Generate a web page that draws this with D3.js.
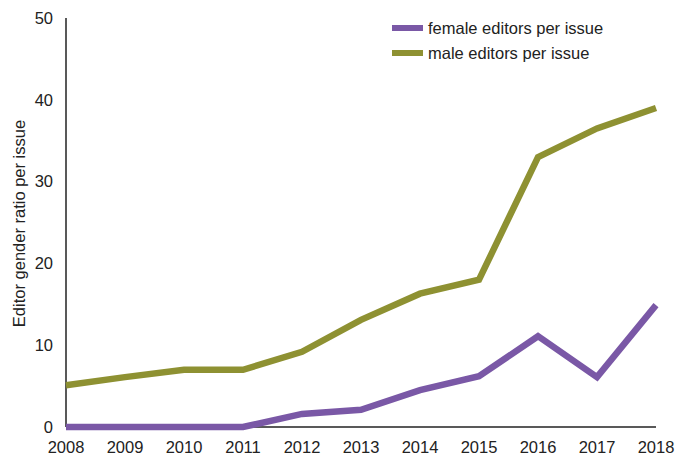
<!DOCTYPE html>
<html>
<head>
<meta charset="utf-8">
<script src="https://cdn.jsdelivr.net/npm/d3@7"></script>
<style>
  body { margin: 0; background: #fff; }
  text { font-family: "Liberation Sans", Arial, sans-serif; fill: #222; }
</style>
</head>
<body>
<div id="chart"></div>
<script>
// data
const years = [2008, 2009, 2010, 2011, 2012, 2013, 2014, 2015, 2016, 2017, 2018];
const femaleValues = [0, 0, 0, 0, 1.6, 2.1, 4.5, 6.2, 11.1, 6.1, 14.9];
const maleValues = [5.1, 6.1, 7, 7, 9.2, 13.1, 16.3, 18, 33, 36.5, 39];
const yTicks = [0, 10, 20, 30, 40, 50];

const seriesNames = ["female editors per issue", "male editors per issue"];
const seriesColors = ["#7a58a6", "#8e9132"];

const width = 675, height = 457;
const margin = {left: 66, right: 19, top: 18, bottom: 30};
const fontSize = 16.5;

const svg = d3.select("#chart").append("svg")
    .attr("width", width)
    .attr("height", height);

const x = d3.scaleLinear()
    .domain([2008, 2018])
    .range([margin.left, width - margin.right]);

const y = d3.scaleLinear()
    .domain([0, 50])
    .range([height - margin.bottom, margin.top]);

// axes
svg.append("line")
    .attr("x1", x(2008)).attr("x2", x(2008))
    .attr("y1", y(50)).attr("y2", y(0))
    .attr("stroke", "#222").attr("stroke-width", 1.5);
svg.append("line")
    .attr("x1", x(2008)).attr("x2", x(2018))
    .attr("y1", y(0)).attr("y2", y(0))
    .attr("stroke", "#222").attr("stroke-width", 1.5);

svg.append("g")
    .selectAll("text")
    .data(yTicks)
    .join("text")
    .attr("x", margin.left - 13)
    .attr("y", d => y(d))
    .attr("dy", "0.35em")
    .attr("text-anchor", "end")
    .attr("font-size", fontSize)
    .text(d => d);

svg.append("g")
    .selectAll("text")
    .data(years)
    .join("text")
    .attr("x", d => x(d))
    .attr("y", y(0) + 20)
    .attr("dy", "0.35em")
    .attr("text-anchor", "middle")
    .attr("font-size", fontSize)
    .text(d => d);

svg.append("text")
    .attr("transform", `translate(25, ${(y(0) + y(50)) / 2 + 1}) rotate(-90)`)
    .attr("text-anchor", "middle")
    .attr("font-size", fontSize)
    .text("Editor gender ratio per issue");

// lines
const line = d3.line()
    .x((d, i) => x(years[i]))
    .y(d => y(d));

[maleValues, femaleValues].forEach((vals, k) => {
    svg.append("path")
        .datum(vals)
        .attr("fill", "none")
        .attr("stroke", seriesColors[1 - k])
        .attr("stroke-width", 6.5)
        .attr("stroke-linejoin", "miter")
        .attr("d", line);
});

// legend
const legend = svg.append("g")
    .selectAll("g")
    .data(seriesNames)
    .join("g")
    .attr("transform", (d, i) => `translate(392, ${28 + i * 25})`);

legend.append("line")
    .attr("x1", 0).attr("x2", 31)
    .attr("stroke", (d, i) => seriesColors[i])
    .attr("stroke-width", 6);

legend.append("text")
    .attr("x", 36)
    .attr("dy", "0.35em")
    .attr("font-size", fontSize)
    .text(d => d);
</script>
</body>
</html>
